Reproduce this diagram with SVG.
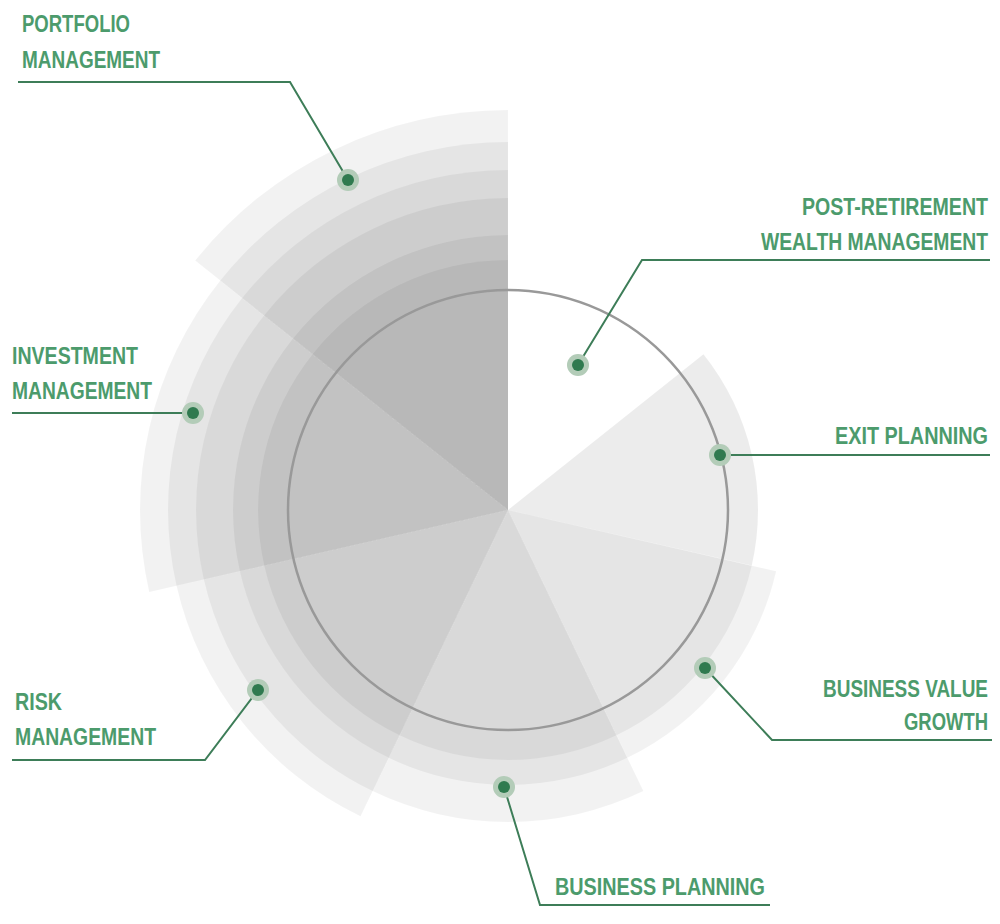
<svg xmlns="http://www.w3.org/2000/svg" xmlns:xlink="http://www.w3.org/1999/xlink" width="1000" height="924" viewBox="0 0 1000 924">
<style>
.w{fill:#000;fill-opacity:0.052}
.lbl{font-family:"Liberation Sans",Arial,sans-serif;font-weight:bold;font-size:24px;fill:#4c9b6c}
.ld{fill:none;stroke:#3d7d58;stroke-width:2}
.dO{fill:#b3ccb8}.dI{fill:#2f7a4f}
</style>
<defs>
<path id="r250" d="M0,0 L0,-250 A250 250 0 0 1 195.45,-155.9 Z"/>
<path id="r275" d="M0,0 L0,-275 A275 275 0 0 1 215,-171.5 Z"/>
<path id="r312" d="M0,0 L0,-312 A312 312 0 0 1 243.9,-194.5 Z"/>
<path id="r340" d="M0,0 L0,-340 A340 340 0 0 1 265.8,-212 Z"/>
<path id="r368" d="M0,0 L0,-368 A368 368 0 0 1 287.7,-229.4 Z"/>
<path id="r400" d="M0,0 L0,-400 A400 400 0 0 1 312.7,-249.4 Z"/>
</defs>
<rect width="1000" height="924" fill="#fff"/>
<g id="chart" transform="translate(508,510)">
<g id="exit-wedge" transform="rotate(51.43)"><use xlink:href="#r250" class="w" style="fill-opacity:0.075"/></g>
<g id="bvg-wedge" transform="rotate(102.86)"><use xlink:href="#r250" class="w"/><use xlink:href="#r275" class="w"/></g>
<g id="bp-wedge" transform="rotate(154.29)"><use xlink:href="#r250" class="w"/><use xlink:href="#r275" class="w"/><use xlink:href="#r312" class="w"/></g>
<g id="risk-wedge" transform="rotate(205.71)"><use xlink:href="#r250" class="w"/><use xlink:href="#r275" class="w"/><use xlink:href="#r312" class="w"/><use xlink:href="#r340" class="w"/></g>
<g id="inv-wedge" transform="rotate(257.14)"><use xlink:href="#r250" class="w"/><use xlink:href="#r275" class="w"/><use xlink:href="#r312" class="w"/><use xlink:href="#r340" class="w"/><use xlink:href="#r368" class="w"/></g>
<g id="port-wedge" transform="rotate(308.57)"><use xlink:href="#r250" class="w"/><use xlink:href="#r275" class="w"/><use xlink:href="#r312" class="w"/><use xlink:href="#r340" class="w"/><use xlink:href="#r368" class="w"/><use xlink:href="#r400" class="w"/></g>
<circle r="220" fill="none" stroke="#999" stroke-width="2.5"/>
</g>
<g id="connectors">
<polyline class="ld" points="348,180 290,82 18,82"/>
<polyline class="ld" points="578,365 642,260 990,260"/>
<polyline class="ld" points="720,455 990,455"/>
<polyline class="ld" points="705,668 772,740 992,740"/>
<polyline class="ld" points="504,787 540,905 770,905"/>
<polyline class="ld" points="258,690 205,760 12,760"/>
<polyline class="ld" points="193,413 12,413"/>
</g>
<g id="portfolio"><circle class="dO" cx="348" cy="180" r="11"/><circle class="dI" cx="348" cy="180" r="6"/>
<text class="lbl" x="22" y="32" textLength="108" lengthAdjust="spacingAndGlyphs">PORTFOLIO</text>
<text class="lbl" x="22" y="68" textLength="138" lengthAdjust="spacingAndGlyphs">MANAGEMENT</text></g>
<g id="post-retirement"><circle class="dO" cx="578" cy="365" r="11"/><circle class="dI" cx="578" cy="365" r="6"/>
<text class="lbl" x="802" y="215" textLength="186" lengthAdjust="spacingAndGlyphs">POST-RETIREMENT</text>
<text class="lbl" x="761" y="250" textLength="227" lengthAdjust="spacingAndGlyphs">WEALTH MANAGEMENT</text></g>
<g id="exit"><circle class="dO" cx="720" cy="455" r="11"/><circle class="dI" cx="720" cy="455" r="6"/>
<text class="lbl" x="835" y="444" textLength="153" lengthAdjust="spacingAndGlyphs">EXIT PLANNING</text></g>
<g id="bvg"><circle class="dO" cx="705" cy="668" r="11"/><circle class="dI" cx="705" cy="668" r="6"/>
<text class="lbl" x="823" y="697" textLength="165" lengthAdjust="spacingAndGlyphs">BUSINESS VALUE</text>
<text class="lbl" x="904" y="730" textLength="84" lengthAdjust="spacingAndGlyphs">GROWTH</text></g>
<g id="bp"><circle class="dO" cx="504" cy="787" r="11"/><circle class="dI" cx="504" cy="787" r="6"/>
<text class="lbl" x="555" y="895" textLength="210" lengthAdjust="spacingAndGlyphs">BUSINESS PLANNING</text></g>
<g id="risk"><circle class="dO" cx="258" cy="690" r="11"/><circle class="dI" cx="258" cy="690" r="6"/>
<text class="lbl" x="15" y="710" textLength="47" lengthAdjust="spacingAndGlyphs">RISK</text>
<text class="lbl" x="15" y="745" textLength="141" lengthAdjust="spacingAndGlyphs">MANAGEMENT</text></g>
<g id="investment"><circle class="dO" cx="193" cy="413" r="11"/><circle class="dI" cx="193" cy="413" r="6"/>
<text class="lbl" x="12" y="364" textLength="126" lengthAdjust="spacingAndGlyphs">INVESTMENT</text>
<text class="lbl" x="12" y="399" textLength="140" lengthAdjust="spacingAndGlyphs">MANAGEMENT</text></g>
</svg>
